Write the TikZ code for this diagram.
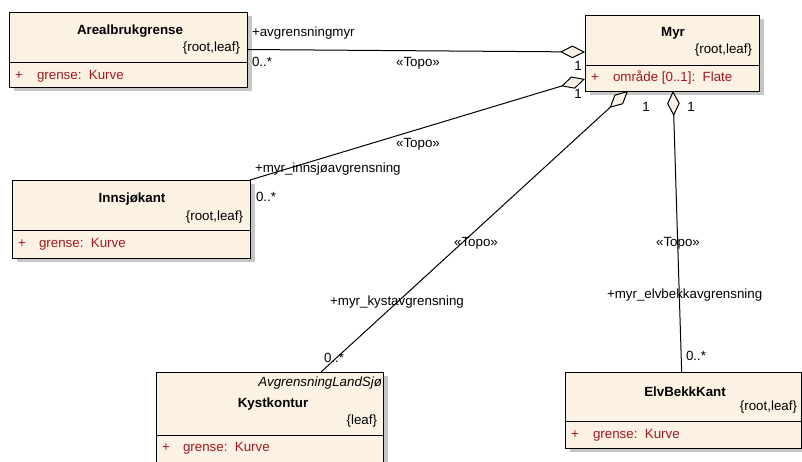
\documentclass[tikz,border=0pt]{standalone}
\usepackage{fontspec}
\setmainfont{Liberation Sans}
\usetikzlibrary{arrows.meta,shadows}
\definecolor{cfill}{RGB}{252,242,228}
\definecolor{attr}{RGB}{160,24,30}
\definecolor{shad}{RGB}{198,198,198}
\begin{document}
\begin{tikzpicture}[x=0.75pt,y=-0.75pt,
  every node/.style={inner sep=0pt, outer sep=0pt, font=\fontsize{10pt}{12pt}\selectfont},
  classbox/.style={draw=black, line width=0.75pt, fill=cfill,
     drop shadow={shadow xshift=3.5pt, shadow yshift=-3.2pt, fill=shad, opacity=1}},
  sepline/.style={line width=0.75pt},
  cname/.style={font=\fontsize{10pt}{12pt}\selectfont\bfseries},
  tagtext/.style={anchor=east},
  attrtext/.style={anchor=west, text=attr},
  lbl/.style={anchor=west},
  clbl/.style={anchor=center},
  assoc/.style={line width=0.75pt, {Diamond[length=18.75pt,width=9.5pt,fill=cfill,line width=0.75pt]}-}
]
\useasboundingbox (0,0) rectangle (802,461);

% classes
\node[classbox, minimum width=178.5pt, minimum height=56.25pt] (arb) at (128,49.5) {};
\node[classbox, minimum width=130.5pt, minimum height=57pt] (myr) at (672,53) {};
\node[classbox, minimum width=178.5pt, minimum height=58.5pt] (inn) at (131,219) {};
\node[classbox, minimum width=170.25pt, minimum height=75pt] (kyst) at (269.5,422) {};
\node[classbox, minimum width=177pt, minimum height=57pt] (elv) at (683,410) {};

% connectors
\draw[assoc] ([yshift=0.75pt]myr.west) -- (arb.east);
\draw[assoc] ([yshift=-19.5pt]myr.west) -- (inn.north east);
\draw[assoc] ([xshift=-33pt]myr.south) -- ([xshift=38.6pt]kyst.north);
\draw[assoc] ([xshift=0.75pt]myr.south) -- ([xshift=-1pt]elv.north);

% separators
\draw[sepline] (arb.west |- 0,62) -- (arb.east |- 0,62);
\draw[sepline] (myr.west |- 0,65) -- (myr.east |- 0,65);
\draw[sepline] (inn.west |- 0,230) -- (inn.east |- 0,230);
\draw[sepline] (kyst.west |- 0,435) -- (kyst.east |- 0,435);
\draw[sepline] (elv.west |- 0,421) -- (elv.east |- 0,421);

% Arealbrukgrense
\node[cname] (arbn) at (130,31) {Arealbrukgrense};
\node[tagtext] (arbt) at (240,48) {\{root,leaf\}};
\node[attrtext] (arbp) at (15,76) {+};
\node[attrtext] (arba) at (37,76) {grense:\ \ Kurve};

% Myr
\node[cname] (myrn) at (673,33) {Myr};
\node[tagtext] (myrt) at (752,50) {\{root,leaf\}};
\node[attrtext] (myrp) at (591,78) {+};
\node[attrtext] (myra) at (613,78) {område [0..1]:\ \ Flate};

% Innsjokant
\node[cname] (innn) at (132,199) {Innsjøkant};
\node[tagtext] (innt) at (243,217) {\{root,leaf\}};
\node[attrtext] (innp) at (18,244) {+};
\node[attrtext] (inna) at (39,244) {grense:\ \ Kurve};

% Kystkontur
\node[tagtext, font=\fontsize{10pt}{12pt}\selectfont\itshape] (kysts) at (382,383) {AvgrensningLandSjø};
\node[cname] (kystn) at (273,404) {Kystkontur};
\node[tagtext] (kystt) at (377,421) {\{leaf\}};
\node[attrtext] (kystp) at (162,448) {+};
\node[attrtext] (kysta) at (183,448) {grense:\ \ Kurve};

% ElvBekkKant
\node[cname] (elvn) at (685,392) {ElvBekkKant};
\node[tagtext] (elvt) at (797,407) {\{root,leaf\}};
\node[attrtext] (elvp) at (571,435) {+};
\node[attrtext] (elva) at (593,435) {grense:\ \ Kurve};

% association labels
\node[lbl] (l1a) at (252,33) {+avgrensningmyr};
\node[lbl] (l1b) at (252,62) {0..*};
\node[clbl] (l1c) at (418,63) {«Topo»};
\node[clbl] (l1d) at (578,66) {1};

\node[clbl] (l2d) at (578,94) {1};
\node[clbl] (l2c) at (418,144) {«Topo»};
\node[lbl] (l2a) at (255,169) {+myr\_innsjøavgrensning};
\node[lbl] (l2b) at (256,197) {0..*};

\node[clbl] (l3d) at (646,107) {1};
\node[clbl] (l3c) at (476,243) {«Topo»};
\node[clbl] (l3a) at (397,302) {+myr\_kystavgrensning};
\node[lbl] (l3b) at (324,358) {0..*};

\node[clbl] (l4d) at (691,107) {1};
\node[clbl] (l4c) at (678,243) {«Topo»};
\node[lbl] (l4a) at (607,295) {+myr\_elvbekkavgrensning};
\node[lbl] (l4b) at (686,356) {0..*};
\end{tikzpicture}
\end{document}
